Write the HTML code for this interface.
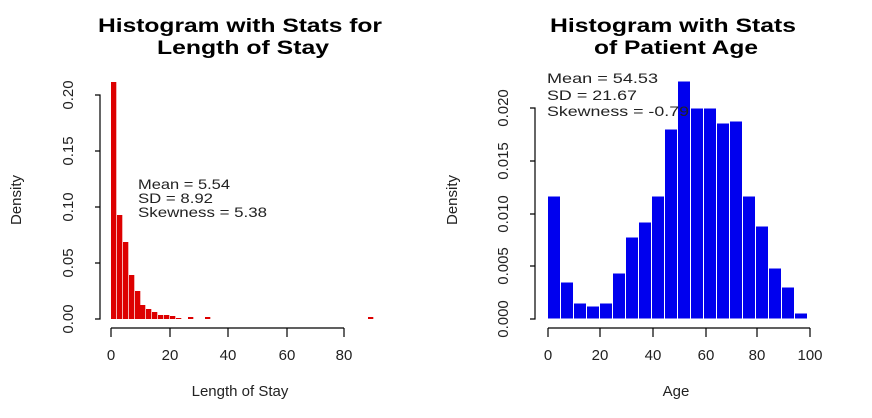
<!DOCTYPE html>
<html><head><meta charset="utf-8"><style>
html,body{margin:0;padding:0;background:#fff;}
svg{display:block;font-family:"Liberation Sans",Arial,sans-serif;}
</style></head><body>
<svg width="872" height="418" viewBox="0 0 872 418" xmlns="http://www.w3.org/2000/svg">
<rect width="872" height="418" fill="#fff"/>
<g font-weight="bold" font-size="19" text-anchor="middle" fill="#000">
<text x="240" y="32" textLength="284" lengthAdjust="spacingAndGlyphs">Histogram with Stats for</text>
<text x="243" y="54" textLength="172" lengthAdjust="spacingAndGlyphs">Length of Stay</text>
<text x="673" y="32" textLength="246" lengthAdjust="spacingAndGlyphs">Histogram with Stats</text>
<text x="676" y="54" textLength="164" lengthAdjust="spacingAndGlyphs">of Patient Age</text>
</g>
<g fill="#dd0000">
<rect x="111" y="82" width="5.3" height="237"/>
<rect x="117" y="215" width="5.3" height="104"/>
<rect x="123" y="242" width="5.3" height="77"/>
<rect x="129" y="275" width="5.3" height="44"/>
<rect x="135" y="291" width="5.3" height="28"/>
<rect x="140" y="305" width="5.3" height="14"/>
<rect x="146" y="309" width="5.3" height="10"/>
<rect x="152" y="312" width="5.3" height="7"/>
<rect x="158" y="315" width="5.3" height="4"/>
<rect x="164" y="315" width="5.3" height="4"/>
<rect x="170" y="316" width="5.3" height="3"/>
<rect x="176" y="318" width="5.3" height="1"/>
<rect x="188" y="317" width="5.3" height="2"/>
<rect x="205" y="317" width="5.3" height="2"/>
<rect x="368" y="317" width="5.3" height="2"/>
</g>
<g stroke="#000" stroke-width="1.2" fill="none">
<path d="M95 95 H100 V319 H95 M95 151 H100 M95 207 H100 M95 263 H100"/>
<path d="M111 328 H344 M111 328 V337 M170 328 V337 M228 328 V337 M287 328 V337 M344 328 V337"/>
</g>
<g font-size="15" fill="#222" text-anchor="middle">
<text transform="translate(73,95) rotate(-90)">0.20</text>
<text transform="translate(73,151) rotate(-90)">0.15</text>
<text transform="translate(73,207) rotate(-90)">0.10</text>
<text transform="translate(73,263) rotate(-90)">0.05</text>
<text transform="translate(73,319) rotate(-90)">0.00</text>
<text x="111" y="360">0</text><text x="170" y="360">20</text><text x="228" y="360">40</text><text x="287" y="360">60</text><text x="344" y="360">80</text>
<text transform="translate(21,200) rotate(-90)">Density</text>
<text x="240" y="396">Length of Stay</text>
</g>
<g font-size="14" fill="#222">
<text x="138" y="189" textLength="92" lengthAdjust="spacingAndGlyphs">Mean = 5.54</text>
<text x="138" y="203" textLength="75" lengthAdjust="spacingAndGlyphs">SD = 8.92</text>
<text x="138" y="217" textLength="129" lengthAdjust="spacingAndGlyphs">Skewness = 5.38</text>
</g>
<g fill="#0000ee" stroke="#fff" stroke-width="1">
<rect x="547.5" y="196" width="13" height="123"/>
<rect x="560.5" y="282" width="13" height="37"/>
<rect x="573.5" y="303" width="13" height="16"/>
<rect x="586.5" y="306" width="13" height="13"/>
<rect x="599.5" y="303" width="13" height="16"/>
<rect x="612.5" y="273" width="13" height="46"/>
<rect x="625.5" y="237" width="13" height="82"/>
<rect x="638.5" y="222" width="13" height="97"/>
<rect x="651.5" y="196" width="13" height="123"/>
<rect x="664.5" y="129" width="13" height="190"/>
<rect x="677.5" y="81" width="13" height="238"/>
<rect x="690.5" y="108" width="13" height="211"/>
<rect x="703.5" y="108" width="13" height="211"/>
<rect x="716.5" y="123" width="13" height="196"/>
<rect x="729.5" y="121" width="13" height="198"/>
<rect x="742.5" y="196" width="13" height="123"/>
<rect x="755.5" y="226" width="13" height="93"/>
<rect x="768.5" y="268" width="13" height="51"/>
<rect x="781.5" y="287" width="13" height="32"/>
<rect x="794.5" y="313" width="13" height="6"/>
</g>
<g stroke="#000" stroke-width="1.2" fill="none">
<path d="M530 108 H535 V319 H530 M530 161 H535 M530 214 H535 M530 266 H535"/>
<path d="M548 328 H810 M548 328 V337 M600 328 V337 M653 328 V337 M706 328 V337 M757 328 V337 M810 328 V337"/>
</g>
<g font-size="15" fill="#222" text-anchor="middle">
<text transform="translate(508,108) rotate(-90)">0.020</text>
<text transform="translate(508,161) rotate(-90)">0.015</text>
<text transform="translate(508,214) rotate(-90)">0.010</text>
<text transform="translate(508,266) rotate(-90)">0.005</text>
<text transform="translate(508,319) rotate(-90)">0.000</text>
<text x="548" y="360">0</text><text x="600" y="360">20</text><text x="653" y="360">40</text><text x="706" y="360">60</text><text x="757" y="360">80</text><text x="810" y="360">100</text>
<text transform="translate(457,200) rotate(-90)">Density</text>
<text x="676" y="396">Age</text>
</g>
<g font-size="14" fill="#222">
<text x="547" y="83" textLength="111" lengthAdjust="spacingAndGlyphs">Mean = 54.53</text>
<text x="547" y="100" textLength="90" lengthAdjust="spacingAndGlyphs">SD = 21.67</text>
<text x="547" y="116" textLength="142" lengthAdjust="spacingAndGlyphs">Skewness = -0.79</text>
</g>
</svg>
</body></html>
